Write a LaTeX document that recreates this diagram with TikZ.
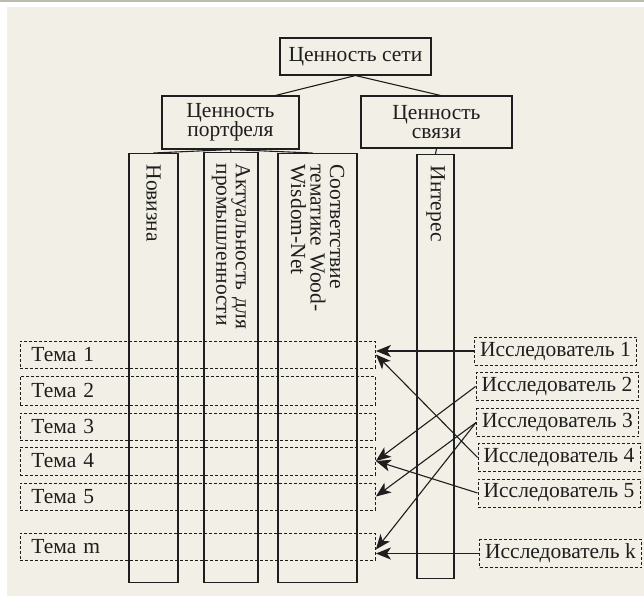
\documentclass[tikz,border=0pt]{standalone}
\usepackage{fontspec}
\setmainfont{Liberation Serif}
\usetikzlibrary{arrows.meta,calc}
\definecolor{bgbeige}{HTML}{F2EFE6}
\definecolor{bandgray}{HTML}{BDBAB0}
\definecolor{ink}{HTML}{1E1E1E}
\begin{document}
\begin{tikzpicture}[x=1pt,y=-1pt,
  every node/.style={font=\fontsize{21.5}{19.5}\selectfont, text=ink},
  box/.style={draw=ink, line width=1.1pt, fill=bgbeige, inner sep=2pt, align=center},
  tall/.style={draw=ink, line width=1.1pt, rotate=-90, anchor=west, align=left, inner xsep=11pt, inner ysep=1pt},
  dbox/.style={draw=ink, line width=0.9pt, dash pattern=on 3pt off 2pt, inner sep=2pt},
  tema/.style={dbox, anchor=west, minimum width=355pt, text width=333pt, inner xsep=11pt, align=left},
  res/.style={dbox, minimum width=162pt, minimum height=28pt, inner xsep=1pt, align=center},
  conn/.style={draw=ink, line width=1.1pt},
  arr/.style={draw=ink, line width=1.1pt, -{Stealth[length=15pt,width=12pt,inset=4pt]}}
]
\useasboundingbox (0,0) rectangle (644,596);
\fill[white] (0,0) rectangle (644,596);
\fill[bandgray] (0,0) rectangle (644,2.5);
\fill[bgbeige] (7,7) rectangle (644,596);

% top hierarchy
\node[box, minimum width=151pt, minimum height=37pt] (net) at (355.5,56.5) {Ценность сети};
\node[box, minimum width=137pt, minimum height=53pt] (port) at (230.5,122.5) {Ценность\\портфеля};
\node[box, minimum width=151pt, minimum height=52pt] (link) at (436.5,122) {Ценность\\связи};

% tall criteria boxes
\node[tall, text width=407pt, minimum height=49pt] (nov) at (153.5,153) {Новизна};
\node[tall, text width=408pt, minimum height=54pt] (akt) at (231,152) {Актуальность для\\промышленности};
\node[tall, text width=407pt, minimum height=79pt] (sot) at (317.5,153) {Соответствие\\тематике Wood-\\Wisdom-Net};
\node[tall, text width=402pt, minimum height=37pt] (int) at (435.5,154) {Интерес};

\draw[conn] (net.south) -- ([xshift=45pt]port.north);
\draw[conn] (net.south) -- ([xshift=4pt]link.north);
\draw[conn] (port.south) -- (nov.west);
\draw[conn] (port.south) -- (akt.west);
\draw[conn] (port.south) -- ([xshift=-5pt]sot.west);
\draw[conn] (link.south) -- (int.west);

% topics
\node[tema, minimum height=27pt] (t1) at (20,354.5) {Тема 1};
\node[tema, minimum height=29pt] (t2) at (20,390.5) {Тема 2};
\node[tema, minimum height=27pt] (t3) at (20,426.5) {Тема 3};
\node[tema, minimum height=28pt] (t4) at (20,461) {Тема 4};
\node[tema, minimum height=27pt] (t5) at (20,496.5) {Тема 5};
\node[tema, minimum height=27pt] (tm) at (20,546.5) {Тема m};

% researchers
\node[res] (r1) at (555.5,351) {Исследователь 1};
\node[res] (r2) at (557,386.5) {Исследователь 2};
\node[res] (r3) at (557.5,422.5) {Исследователь 3};
\node[res] (r4) at (559,457.5) {Исследователь 4};
\node[res] (r5) at (559,493) {Исследователь 5};
\node[res] (rk) at (560.5,553.5) {Исследователь k};

% arrows
\draw[arr] (r1.west) -- (r1.west -| t1.east);
\draw[arr] (r4.west) -- (t1.east);
\draw[arr] (r2.west) -- (t4.east);
\draw[arr] (r3.west) -- (t5.east);
\draw[arr] (r3.west) -- ([yshift=-3pt]tm.east);
\draw[arr] (r5.west) -- (t4.east);
\draw[arr] (rk.west) -- (rk.west -| tm.east);
\end{tikzpicture}
\end{document}
